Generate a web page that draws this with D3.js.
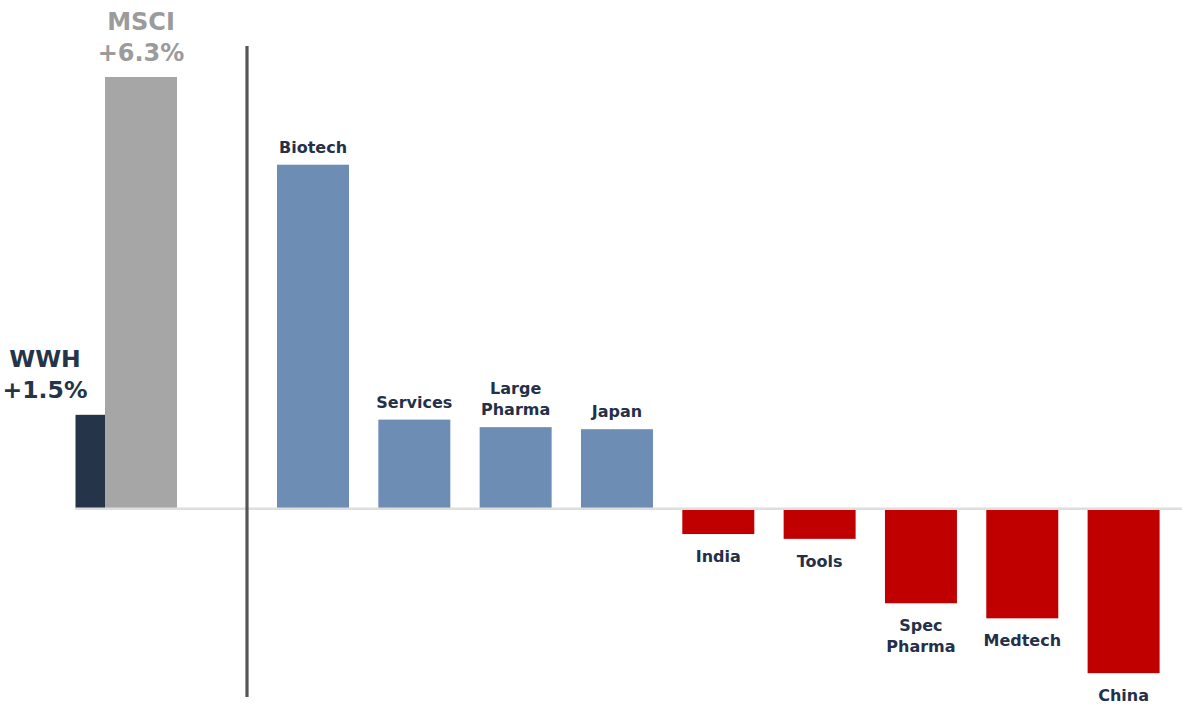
<!DOCTYPE html>
<html>
<head>
<meta charset="utf-8">
<script src="https://cdn.jsdelivr.net/npm/d3@7"></script>
<style>
  html, body { margin: 0; padding: 0; background: #ffffff; }
  svg { display: block; }
  text { font-family: "DejaVu Sans", Verdana, sans-serif; font-weight: bold; }
</style>
</head>
<body>
<svg id="chart" width="1182" height="709"></svg>
<script>
// ---- data ----
const benchNames = ["WWH", "MSCI"];
const benchValues = [1.37, 6.3];
const benchLabels = ["+1.5%", "+6.3%"];

const sectors = ["Biotech", "Services", "Large Pharma", "Japan", "India", "Tools", "Spec Pharma", "Medtech", "China"];
const sectorValues = [5.02, 1.30, 1.19, 1.16, -0.37, -0.44, -1.38, -1.60, -2.40];
const sectorLabelLines = [["Biotech"], ["Services"], ["Large", "Pharma"], ["Japan"], ["India"], ["Tools"], ["Spec", "Pharma"], ["Medtech"], ["China"]];

// ---- layout ----
const W = 1182, H = 709;
const zeroY = 508.7;
const svg = d3.select("#chart");

const y = d3.scaleLinear().domain([0, 6.3]).range([zeroY, 77]);

const xBench = d3.scaleBand().domain(benchNames).range([33, 177]).padding(0);
const xSect = d3.scaleBand().domain(sectors).range([277, 1159.6]).paddingInner(0.2895).paddingOuter(0);

const benchColors = { "WWH": "#253448", "MSCI": "#a6a6a6" };
const benchTextColors = { "WWH": "#253448", "MSCI": "#9b9b9b" };
const posColor = "#6d8db5", negColor = "#c00000";
const labelColor = "#253048";

svg.append("defs").append("clipPath").attr("id", "plotclip")
  .append("rect").attr("x", 75.5).attr("y", 0).attr("width", W).attr("height", H);

const benchData = benchNames.map((n, i) => ({ name: n, value: benchValues[i], label: benchLabels[i] }));
const sectData = sectors.map((s, i) => ({ name: s, value: sectorValues[i], lines: sectorLabelLines[i] }));

// benchmark bars
svg.append("g").attr("clip-path", "url(#plotclip)")
  .selectAll("rect").data(benchData).join("rect")
  .attr("x", d => xBench(d.name))
  .attr("width", xBench.bandwidth())
  .attr("y", d => y(Math.max(0, d.value)))
  .attr("height", d => Math.abs(y(d.value) - y(0)))
  .attr("fill", d => benchColors[d.name]);

// sector bars
svg.append("g").selectAll("rect").data(sectData).join("rect")
  .attr("x", d => xSect(d.name))
  .attr("width", xSect.bandwidth())
  .attr("y", d => y(Math.max(0, d.value)))
  .attr("height", d => Math.abs(y(d.value) - y(0)))
  .attr("fill", d => d.value >= 0 ? posColor : negColor);

// zero line
svg.append("line")
  .attr("x1", 75).attr("x2", W)
  .attr("y1", y(0)).attr("y2", y(0))
  .attr("stroke", "#dedede").attr("stroke-width", 2.5);

// separator line
svg.append("line")
  .attr("x1", 247).attr("x2", 247)
  .attr("y1", 46).attr("y2", 697)
  .attr("stroke", "#555555").attr("stroke-width", 3.2);

// benchmark labels
const benchFont = { "WWH": 23.5, "MSCI": 24 };
benchData.forEach(d => {
  const fs = benchFont[d.name];
  const cx = d.name === "MSCI" ? xBench(d.name) + xBench.bandwidth() / 2 : 45;
  const top = y(d.value);
  const g = svg.append("text")
    .attr("text-anchor", "middle")
    .attr("fill", benchTextColors[d.name])
    .attr("font-size", fs);
  const base2 = top - (d.name === "MSCI" ? 16 : 17);
  g.append("tspan").attr("x", cx).attr("y", base2 - 31).text(d.name);
  g.append("tspan").attr("x", cx).attr("y", base2).text(d.label);
});

// sector labels
const lineH = 21;
sectData.forEach(d => {
  const cx = xSect(d.name) + xSect.bandwidth() / 2;
  const t = svg.append("text")
    .attr("text-anchor", "middle")
    .attr("fill", labelColor)
    .attr("font-size", 16);
  const n = d.lines.length;
  d.lines.forEach((ln, i) => {
    let by;
    if (d.value >= 0) {
      by = y(d.value) - 12 - (n - 1 - i) * lineH;
    } else {
      by = y(d.value) + 28 + i * lineH;
    }
    t.append("tspan").attr("x", cx).attr("y", by).text(ln);
  });
});
</script>
</body>
</html>
